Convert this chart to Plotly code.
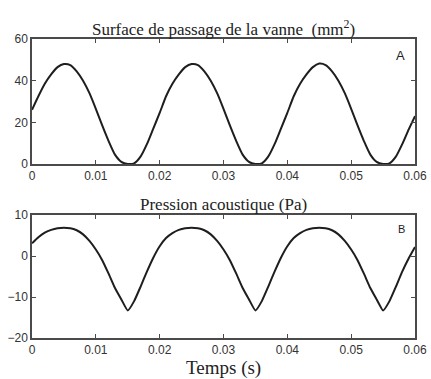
import plotly.graph_objects as go

# Time axis (s)
temps = [round(i * 0.001, 3) for i in range(61)]

# Surface de passage de la vanne (mm^2)
surface = [
    26, 32.5, 38.5, 43, 46.5, 48, 47.5, 44.5, 40, 34,
    26.5, 18.5, 11, 4.5, 1, 0, 0.3, 3.5, 9.5, 17,
    24.5, 32.5, 38.5, 43, 46.5, 48, 47.5, 44.5, 40, 34,
    26.5, 18.5, 11, 4.5, 1, 0, 0.3, 3.5, 9.5, 17,
    24.5, 32.5, 38.5, 43, 46.5, 48.2, 47.5, 44.5, 40, 34,
    26.5, 18.5, 11, 4.5, 1, 0, 0.3, 3.5, 9.5, 16.5, 23,
]

# Pression acoustique (Pa)
pression = [
    3.1, 4.6, 5.7, 6.4, 6.8, 6.9, 6.8, 6.3, 5.3, 3.7,
    1.6, -1.0, -4.3, -7.8, -10.6, -13.3, -11.0, -7.5, -3.8, -0.4,
    2.4, 4.4, 5.6, 6.4, 6.8, 6.9, 6.8, 6.3, 5.3, 3.7,
    1.6, -1.0, -4.3, -7.8, -10.6, -13.3, -11.0, -7.5, -3.8, -0.4,
    2.4, 4.4, 5.6, 6.4, 6.8, 6.9, 6.8, 6.3, 5.3, 3.7,
    1.6, -1.0, -4.3, -7.8, -10.6, -13.3, -11.0, -7.5, -3.8, -0.6, 2.2,
]

x_ticks = [0, 0.01, 0.02, 0.03, 0.04, 0.05, 0.06]
x_ticklabels = ["0", "0.01", "0.02", "0.03", "0.04", "0.05", "0.06"]
y1_ticks = [0, 20, 40, 60]
y2_ticks = [-20, -10, 0, 10]

title_top = "Surface de passage de la vanne  (mm<sup>2</sup>)"
title_bottom = "Pression acoustique (Pa)"
x_label = "Temps (s)"

line_col = "#1e1e1e"
axis_col = "#4a4a4a"
tick_font = dict(family="Liberation Sans, Arial, sans-serif", size=12, color="#333")
serif = "Liberation Serif, Times New Roman, serif"

fig = go.Figure()
fig.add_trace(go.Scatter(x=temps, y=surface, mode="lines", xaxis="x", yaxis="y",
                         line=dict(color=line_col, width=2, shape="spline", smoothing=0.6),
                         showlegend=False))
fig.add_trace(go.Scatter(x=temps, y=pression, mode="lines", xaxis="x2", yaxis="y2",
                         line=dict(color=line_col, width=2, shape="spline", smoothing=0.4),
                         showlegend=False))

axis_common = dict(showgrid=False, zeroline=False, showline=True, linecolor=axis_col,
                   linewidth=1.5, mirror="ticks", ticks="inside", ticklen=4,
                   tickcolor=axis_col, tickfont=tick_font, automargin=False)

fig.update_layout(
    width=431, height=379,
    margin=dict(l=32, r=16, t=39, b=41),
    paper_bgcolor="white", plot_bgcolor="white",
    xaxis=dict(domain=[0, 1], range=[0, 0.06], tickvals=x_ticks, ticktext=x_ticklabels,
               anchor="y", **axis_common),
    yaxis=dict(domain=[0.582, 1], range=[0, 60], tickvals=y1_ticks, anchor="x",
               **axis_common),
    xaxis2=dict(domain=[0, 1], range=[0, 0.06], tickvals=x_ticks, ticktext=x_ticklabels,
                anchor="y2", **axis_common),
    yaxis2=dict(domain=[0, 0.411], range=[-20, 10], tickvals=y2_ticks, anchor="x2",
                **axis_common),
    annotations=[
        dict(text=title_top, x=0.5, y=1.037, xref="paper", yref="paper",
             xanchor="center", yanchor="middle", showarrow=False,
             font=dict(family=serif, size=17, color="#222")),
        dict(text=title_bottom, x=0.5, y=0.448, xref="paper", yref="paper",
             xanchor="center", yanchor="middle", showarrow=False,
             font=dict(family=serif, size=17, color="#222")),
        dict(text=x_label, x=0.5, y=-0.1, xref="paper", yref="paper",
             xanchor="center", yanchor="middle", showarrow=False,
             font=dict(family=serif, size=19, color="#222")),
        dict(text="A", x=0.0588, y=52, xref="x", yref="y", xanchor="right",
             yanchor="middle", showarrow=False,
             font=dict(family="Liberation Sans, Arial, sans-serif", size=13, color="#222")),
        dict(text="B", x=0.0588, y=6.6, xref="x2", yref="y2", xanchor="right",
             yanchor="middle", showarrow=False,
             font=dict(family="Liberation Sans, Arial, sans-serif", size=11, color="#222")),
    ],
)

fig.write_html("out.html", config={"displayModeBar": False},
               post_script="document.body.style.margin='0';")
